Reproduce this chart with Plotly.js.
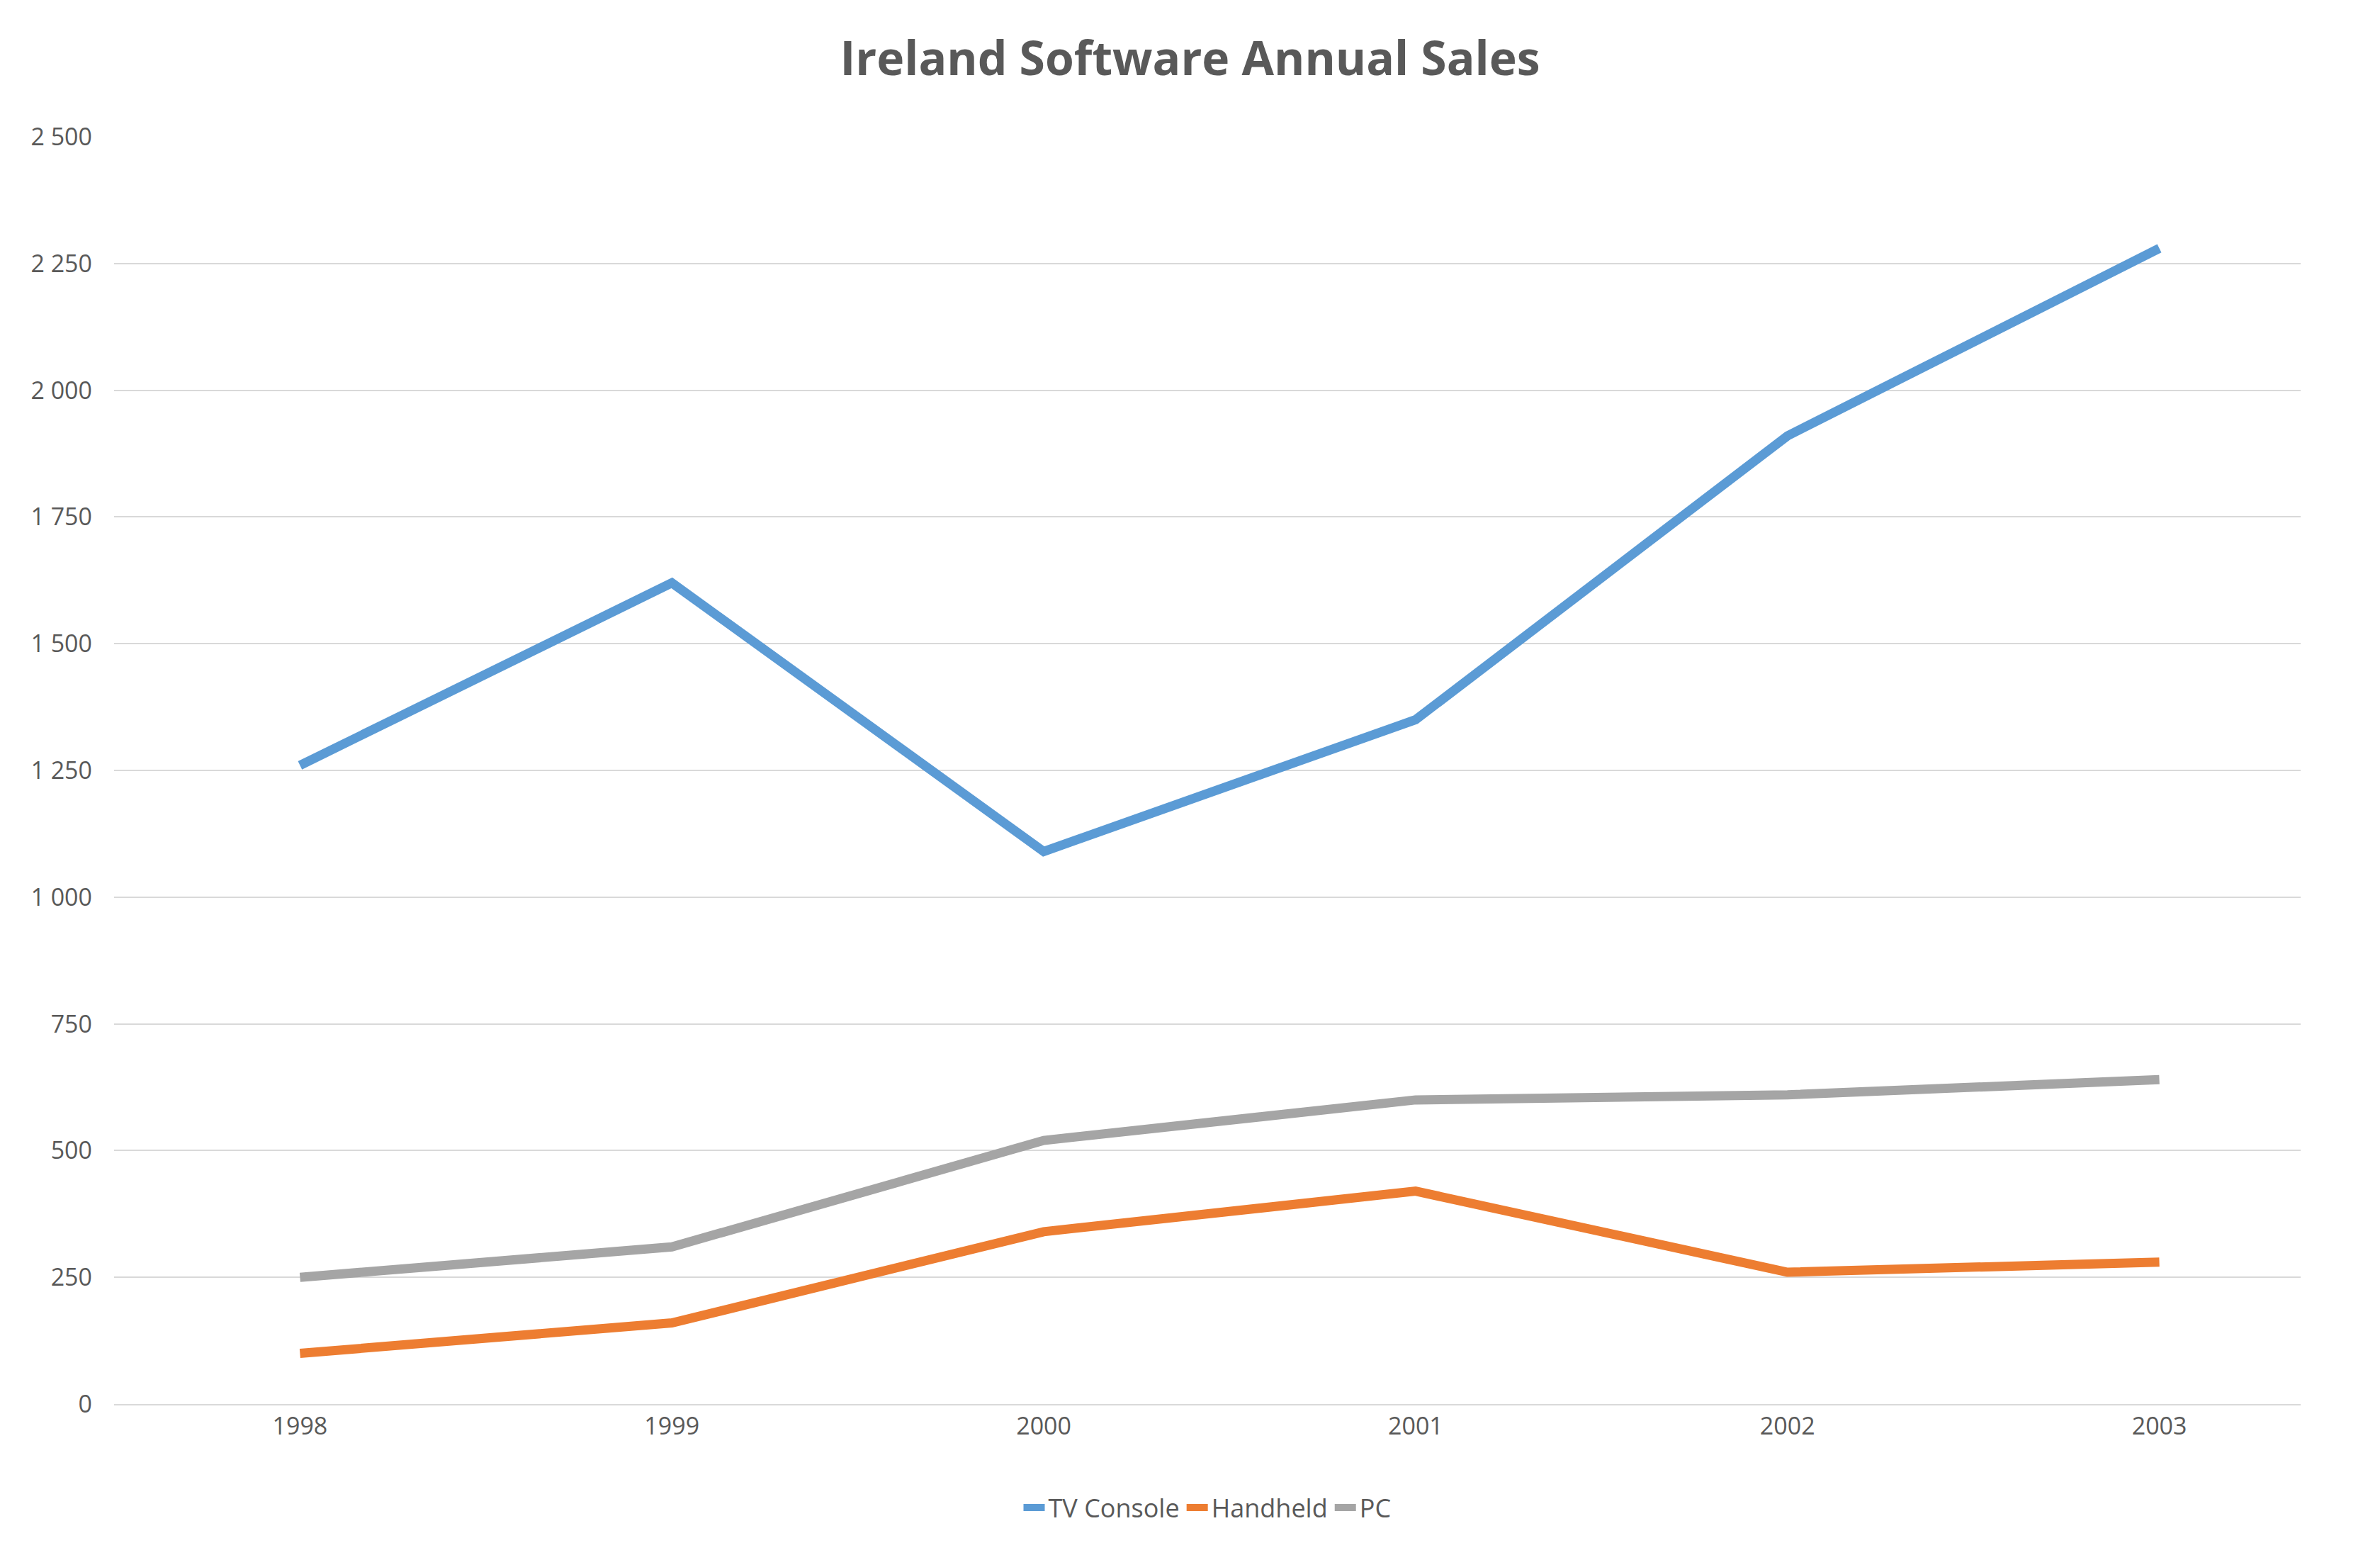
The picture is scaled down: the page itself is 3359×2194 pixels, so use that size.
<html><head>
<meta charset="utf-8"/>
<script src="https://cdn.plot.ly/plotly-3.0.1.min.js"></script>
<style>*{margin:0;padding:0}#chart{width:3359px;height:2194px}</style>
</head><body>
<div id="chart"></div>
<script>
var years = ['1998', '1999', '2000', '2001', '2002', '2003'];
var tvConsole = [1260, 1620, 1090, 1350, 1910, 2280];
var handheld = [100, 160, 340, 420, 260, 280];
var pc = [250, 310, 520, 600, 610, 640];

function line(name, y, color) {
    return {x: years, y: y, name: name, type: 'scatter', mode: 'lines',
        line: {color: color, width: 13}};
}
var traces = [
    line('TV Console', tvConsole, '#5b9bd5'),
    line('Handheld', handheld, '#ed7d31'),
    line('PC', pc, '#a5a5a5')
];
var layout = {
    width: 3359, height: 2194,
    paper_bgcolor: '#fff', plot_bgcolor: '#fff',
    separators: '. ',
    font: {family: 'Open Sans, sans-serif', color: '#595959', size: 34},
    margin: {l: 161, r: 112, t: 193, b: 213},
    title: {text: '<b>Ireland Software Annual Sales</b>', font: {size: 66, color: '#595959'},
        x: 0.5, xanchor: 'center', y: 0.962, yanchor: 'middle'},
    xaxis: {type: 'category', range: [-0.5, 5.38], showgrid: false, zeroline: false,
        showline: true, linecolor: '#d9d9d9', linewidth: 2, ticks: '', ticklen: 0},
    yaxis: {range: [0, 2500], dtick: 250, tickformat: ',d', gridcolor: '#d9d9d9',
        gridwidth: 2, zeroline: false, ticks: '', ticklabelstandoff: 30},
    legend: {orientation: 'h', x: 0.5, xanchor: 'center', y: -0.065, yanchor: 'top',
        font: {size: 36, color: '#595959'}},
    showlegend: true
};
Plotly.newPlot('chart', traces, layout, {staticPlot: true});
</script>
</body></html>
